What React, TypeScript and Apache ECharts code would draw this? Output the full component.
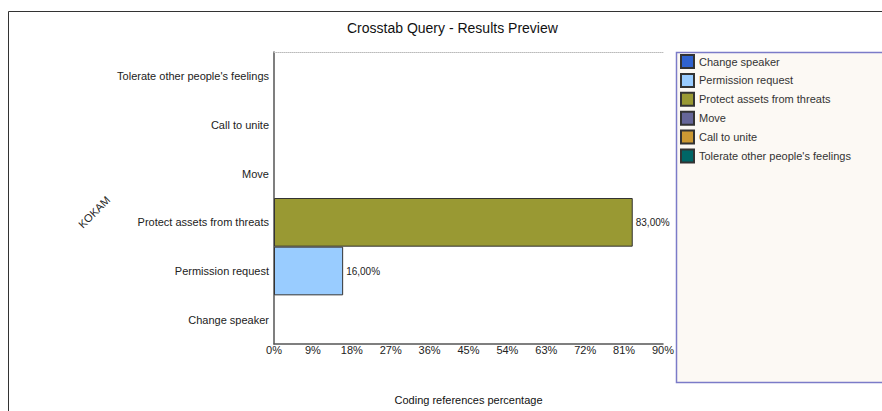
import React, { useEffect, useRef } from "react";
import * as echarts from "echarts";

// Categories from bottom to top of the y axis
const categories = [
  "Change speaker",
  "Permission request",
  "Protect assets from threats",
  "Move",
  "Call to unite",
  "Tolerate other people's feelings",
];

// Coding references percentage per category
const values = [0, 16, 83, 0, 0, 0];

const colors = ["#2f62cf", "#99ccff", "#999933", "#666699", "#cc9933", "#006666"];

const xTicks = { min: 0, max: 90, interval: 9 };

const FONT = "Liberation Sans, Arial, sans-serif";

export default function App() {
  const ref = useRef<HTMLDivElement>(null);

  useEffect(() => {
    document.body.style.margin = "0";
    const chart = echarts.init(ref.current!, null, { renderer: "svg" });

    const series = categories.map((name, i) => ({
      name,
      type: "bar",
      stack: "total",
      barCategoryGap: "0%",
      data: categories.map((_, j) => (j === i && values[i] > 0 ? values[i] : null)),
      itemStyle: { color: colors[i], borderColor: "#333", borderWidth: 1 },
      label: {
        show: true,
        position: "right",
        distance: 3,
        fontFamily: FONT,
        fontSize: 10,
        color: "#222",
        formatter: (p: any) => (p.value ? p.value.toFixed(2).replace(".", ",") + "%" : ""),
      },
    }));

    chart.setOption({
      animation: false,
      textStyle: { fontFamily: FONT },
      title: {
        text: "Crosstab Query - Results Preview",
        left: 347,
        top: 21,
        padding: 0,
        textStyle: { fontFamily: FONT, fontSize: 14, fontWeight: "normal", color: "#111" },
      },
      graphic: [
        {
          type: "rect",
          shape: { x: 8.5, y: 11.5, width: 900, height: 500 },
          style: { fill: "none", stroke: "#333", lineWidth: 1 },
          z: -10,
        },
        {
          type: "rect",
          shape: { x: 676.5, y: 52.5, width: 220, height: 330 },
          style: { fill: "#fcf9f4", stroke: "#7b7bc8", lineWidth: 1.5 },
          z: -5,
        },
      ],
      legend: {
        orient: "vertical",
        left: 680,
        top: 54,
        padding: 0,
        itemWidth: 13,
        itemHeight: 13,
        itemGap: 3.9,
        icon: "rect",
        textStyle: { fontFamily: FONT, fontSize: 11, color: "#333", lineHeight: 13 },
        data: categories,
      },
      grid: {
        left: 274,
        top: 52,
        right: 219,
        bottom: 67,
        containLabel: false,
        outerBoundsMode: "none",
      },
      xAxis: [
        {
          type: "value",
          min: xTicks.min,
          max: xTicks.max,
          interval: xTicks.interval,
          name: "Coding references percentage",
          nameLocation: "middle",
          nameGap: 50,
          nameTextStyle: { fontFamily: FONT, fontSize: 11, color: "#111" },
          axisLine: { show: true, lineStyle: { color: "#555", width: 1.5 } },
          axisTick: { show: false },
          splitLine: { show: false },
          axisLabel: {
            formatter: (v: number) => v + "%",
            fontFamily: FONT,
            fontSize: 11,
            color: "#222",
            margin: 0,
          },
        },
        {
          type: "value",
          position: "top",
          min: xTicks.min,
          max: xTicks.max,
          interval: xTicks.interval,
          axisLine: { show: true, lineStyle: { color: "#bbb", type: "dotted", width: 1 } },
          axisTick: { show: false },
          axisLabel: { show: false },
          splitLine: { show: false },
        },
      ],
      yAxis: {
        type: "category",
        data: categories,
        name: "KOKAM",
        nameLocation: "middle",
        nameGap: 160,
        nameRotate: 45,
        nameTextStyle: { fontFamily: FONT, fontSize: 11, color: "#222" },
        axisLine: { show: true, lineStyle: { color: "#555", width: 1.5 } },
        axisTick: { show: false },
        axisLabel: { fontFamily: FONT, fontSize: 11, color: "#222", margin: 5 },
      },
      series,
    });

    return () => chart.dispose();
  }, []);

  return <div ref={ref} style={{ width: 882, height: 411 }} />;
}
